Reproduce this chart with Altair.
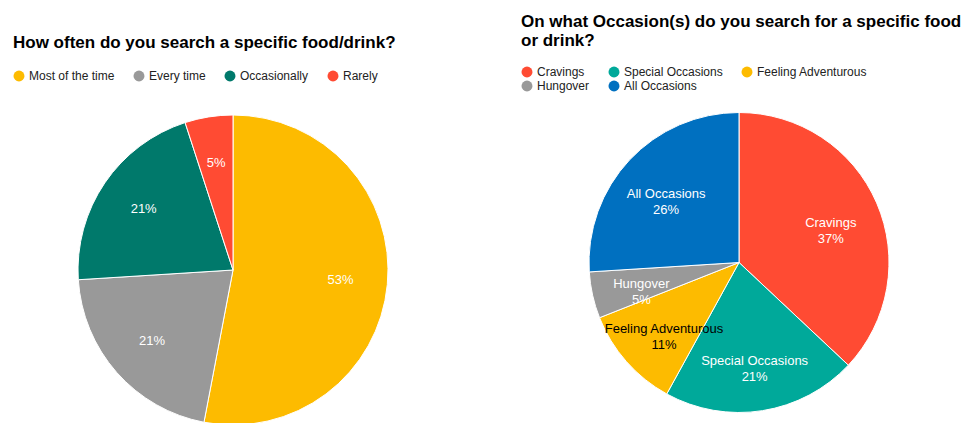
import altair as alt
import pandas as pd

FONT = "Liberation Sans"

left_cats = ["Most of the time", "Every time", "Occasionally", "Rarely"]
left_vals = [53, 21, 21, 5]
left_colors = ["#FDBB00", "#999999", "#00796B", "#FF4B33"]

right_cats = ["Cravings", "Special Occasions", "Feeling Adventurous", "Hungover", "All Occasions"]
right_vals = [37, 21, 11, 5, 26]
right_colors = ["#FF4B33", "#00A99A", "#FDBB00", "#999999", "#0070C0"]
right_text_colors = ["white", "white", "black", "white", "white"]
legend_order = ["Cravings", "Special Occasions", "Feeling Adventurous", "Hungover", "All Occasions"]

left = pd.DataFrame({"cat": left_cats, "val": left_vals, "ord": range(4),
                     "lbl": [f"{v}%" for v in left_vals]})
right = pd.DataFrame({"cat": right_cats, "val": right_vals, "ord": range(5),
                      "lbl": [[c, f"{v}%"] for c, v in zip(right_cats, right_vals)],
                      "tc": right_text_colors})

def legend(cols, offset):
    return alt.Legend(orient="top", title=None, columns=cols, symbolType="circle",
                      symbolSize=120, labelFont=FONT, labelFontSize=12, columnPadding=18,
                      symbolStrokeWidth=0, labelColor="#222", offset=offset)

lbase = alt.Chart(left).encode(
    theta=alt.Theta("val:Q").stack(True),
    order=alt.Order("ord:Q"),
)
lpie = lbase.mark_arc(outerRadius=155, stroke="white", strokeWidth=1).encode(
    color=alt.Color("cat:N").scale(domain=left_cats, range=left_colors).legend(legend(4, 28))
)
ltext = lbase.mark_text(radius=108, color="white", font=FONT, fontSize=13).encode(text="lbl:N")
lchart = (lpie + ltext).properties(
    width=440, height=320,
    title=alt.Title("How often do you search a specific food/drink?", anchor="start",
                    font=FONT, fontSize=17, fontWeight="bold", offset=18),
)

rbase = alt.Chart(right).encode(
    theta=alt.Theta("val:Q").stack(True),
    order=alt.Order("ord:Q"),
)
rpie = rbase.mark_arc(outerRadius=150, stroke="white", strokeWidth=1).encode(
    color=alt.Color("cat:N").scale(domain=right_cats, range=right_colors)
    .sort(legend_order).legend(legend(3, 18))
)
rtext = rbase.mark_text(radius=100, font=FONT, fontSize=13, lineHeight=16).encode(
    text="lbl", color=alt.Color("tc:N").scale(None)
)
rchart = (rpie + rtext).properties(
    width=436, height=305,
    title=alt.Title(["On what Occasion(s) do you search for a specific food", "or drink?"],
                    anchor="start", font=FONT, fontSize=17, fontWeight="bold", offset=16),
)

chart = alt.hconcat(lchart, rchart, spacing=68).resolve_scale(color="independent").configure_view(
    stroke=None
).configure(background="white")

chart.save("out.html", embed_options={"renderer": "svg", "actions": False})
